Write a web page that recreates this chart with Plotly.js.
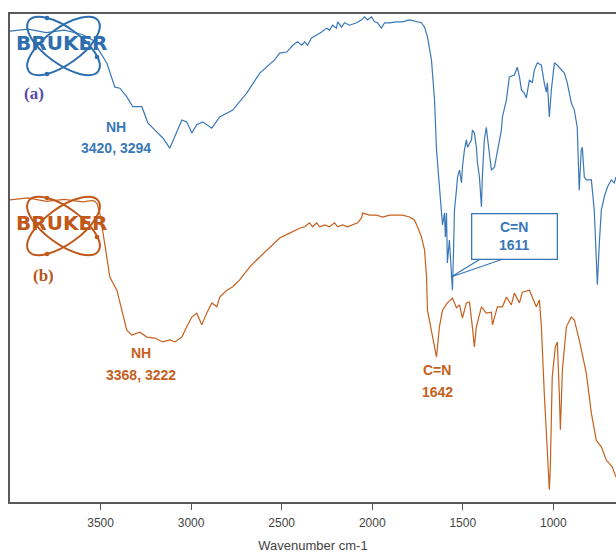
<!DOCTYPE html>
<html>
<head>
<meta charset="utf-8">
<script src="https://cdn.plot.ly/plotly-3.0.1.min.js"></script>
<style>html,body{margin:0;padding:0;background:#fff;}#chart{width:616px;height:553px;}</style>
</head>
<body>
<div id="chart"></div>
<script>
// ---- Data (wavenumber cm-1, transmittance-like relative units) ----
const wavenumberA = [4000,3900,3800,3700,3600,3540,3520,3465,3421,3393,3355,3322,3272,3239,3200,3156,3118,3090,3051,3024,2996,2969,2936,2886,2842,2770,2693,2621,2539,2511,2472,2439,2412,2390,2373,2357,2335,2307,2279,2252,2235,2219,2197,2191,2169,2153,2125,2086,2059,2042,2026,2004,1987,1971,1949,1932,1904,1866,1833,1794,1756,1728,1711,1695,1673,1656,1645,1629,1612,1601,1596,1590,1585,1574,1563,1557,1551,1546,1535,1529,1518,1507,1502,1491,1480,1474,1452,1447,1436,1425,1419,1408,1397,1392,1381,1370,1364,1353,1342,1325,1309,1287,1281,1259,1243,1215,1199,1187,1176,1160,1149,1143,1132,1116,1105,1088,1066,1050,1039,1033,1022,1011,994,978,956,939,923,901,884,868,857,846,840,829,818,790,774,763,757,746,735,719,702,680,664,654];
const transA = [96.5,96.9,96.2,96.7,95.8,94.6,93.2,89.9,85.0,84.8,83.0,81.0,81.0,77.7,76.2,74.6,72.5,74.8,78.3,77.9,75.6,77.3,77.9,76.6,78.9,80.3,83.8,87.9,90.6,92.0,92.2,93.6,94.3,93.6,94.3,93.6,95.1,95.7,96.3,97.1,96.7,97.7,97.1,98.4,97.3,98.2,97.7,98.2,98.8,99.4,98.8,99.4,98.4,98.2,97.1,98.2,98.2,98.4,98.4,98.8,98.4,98.2,97.3,95.3,90.6,82.4,72.1,63.9,56.8,59.2,54.3,59.2,49.0,53.7,46.1,43.4,51.6,59.8,63.9,66.6,68.0,65.4,68.6,72.1,74.2,72.7,74.2,76.2,75.6,72.7,69.5,66.6,60.5,66.6,74.2,76.8,74.8,70.7,68.0,68.6,71.5,76.2,78.9,82.4,87.1,87.5,89.1,87.1,84.4,83.8,82.8,84.4,86.5,85.9,88.5,90.0,89.5,85.9,84.0,85.9,78.9,84.4,90.0,89.5,88.5,87.9,85.9,81.8,80.3,76.8,63.9,72.1,72.7,66.6,66.0,66.0,59.8,48.2,44.5,53.1,59.8,62.5,64.5,66.0,65.4,66.6];

const wavenumberB = [4000,3900,3800,3700,3600,3540,3520,3504,3476,3449,3410,3382,3355,3327,3283,3244,3200,3156,3118,3090,3051,3024,2996,2969,2941,2914,2886,2858,2842,2803,2770,2732,2676,2638,2583,2511,2456,2401,2373,2346,2329,2307,2290,2263,2235,2208,2191,2164,2136,2108,2081,2059,2053,2015,1976,1943,1904,1866,1833,1794,1767,1750,1728,1711,1700,1695,1673,1656,1645,1629,1612,1585,1557,1535,1518,1502,1480,1463,1447,1436,1425,1397,1370,1342,1336,1309,1281,1259,1232,1215,1187,1171,1132,1116,1094,1077,1066,1050,1033,1022,1017,1006,989,978,967,961,950,928,901,884,857,818,790,763,735,708,675,654];
const transB = [61.9,62.3,61.6,62.0,61.5,61.8,61.2,59.2,52.7,46.1,43.4,39.3,35.2,34.2,34.8,33.8,33.6,32.8,33.2,32.8,33.8,35.9,37.9,38.7,36.3,38.7,40.8,40.0,42.0,43.4,44.1,45.5,48.2,49.6,51.5,54.1,55.1,56.1,56.4,57.2,56.4,57.2,56.4,56.8,56.4,57.2,56.4,56.8,56.4,56.8,57.2,58.2,59.2,58.8,58.8,58.4,58.8,58.8,58.8,58.4,57.8,56.4,54.3,51.6,46.1,39.3,34.6,31.8,29.7,35.9,39.3,40.8,41.8,39.8,40.4,37.7,40.8,41.0,35.9,31.8,35.9,40.0,38.7,38.9,36.3,40.0,40.0,42.0,40.4,42.8,40.8,43.0,43.4,42.0,40.0,41.4,35.9,22.3,8.6,2.5,6.6,25.6,31.8,32.8,22.3,14.8,27.0,35.9,37.9,37.3,33.2,26.4,18.2,12.7,11.3,8.6,7.2,5.1];

const tickValues = [3500,3000,2500,2000,1500,1000];
const tickLabels = ["3500","3000","2500","2000","1500","1000"];

const BLUE = "#3a78b8";
const ORANGE = "#c5601e";

// plot area in pixels: x 10..616, y 14..502
const PL = 10, PR = 616, PT = 14, PB = 502;
const px = x => (x - PL) / (PR - PL);
const py = y => (PB - y) / (PB - PT);

function ellipsePath(cx, cy, a, b, angDeg) {
  const t = angDeg * Math.PI / 180, k = 0.5523;
  const c = Math.cos(t), s = Math.sin(t);
  const P = (u, v) => { const X = cx + u * c - v * s, Y = cy + u * s + v * c; return px(X).toFixed(5) + "," + py(Y).toFixed(5); };
  return "M" + P(a,0) +
    " C" + P(a,k*b) + " " + P(k*a,b) + " " + P(0,b) +
    " C" + P(-k*a,b) + " " + P(-a,k*b) + " " + P(-a,0) +
    " C" + P(-a,-k*b) + " " + P(-k*a,-b) + " " + P(0,-b) +
    " C" + P(k*a,-b) + " " + P(a,-k*b) + " " + P(a,0) + " Z";
}
function logoShapes(cx, cy, col) {
  const base = {type: "path", xref: "paper", yref: "paper", line: {color: col, width: 2}, layer: "above"};
  const r = 2.3;
  const dot = (x, y) => ({type: "circle", xref: "paper", yref: "paper", x0: px(x - r), x1: px(x + r), y0: py(y + r), y1: py(y - r), fillcolor: col, line: {color: col, width: 0}});
  return [
    Object.assign({}, base, {path: ellipsePath(cx, cy, 43, 18, 36)}),
    Object.assign({}, base, {path: ellipsePath(cx, cy, 43, 18, -36)}),
    dot(cx - 16.5, cy - 28), dot(cx - 16.5, cy + 28), dot(cx + 33.5, cy + 11)
  ];
}

const traces = [
  {x: wavenumberA, y: transA, type: "scatter", mode: "lines", line: {color: BLUE, width: 1.2}, hoverinfo: "skip", showlegend: false},
  {x: wavenumberB, y: transB, type: "scatter", mode: "lines", line: {color: ORANGE, width: 1.2}, hoverinfo: "skip", showlegend: false}
];

const lblFont = (c, s) => ({family: "Liberation Sans, Arial, sans-serif", size: s, color: c});
const ann = (x, y, text, font, extra) => Object.assign({xref: "paper", yref: "paper", x: px(x), y: py(y), xanchor: "center", yanchor: "middle", showarrow: false, text: text, font: font}, extra || {});

const shapes = [].concat(
  logoShapes(63.5, 46, "#2f6eae"),
  logoShapes(63.5, 226, "#c0581a"),
  [{type: "path", xref: "paper", yref: "paper",
    path: "M" + px(482) + "," + py(258) + " L" + px(451) + "," + py(277) + " L" + px(506) + "," + py(258),
    line: {color: BLUE, width: 1.3}}]
);

const annotations = [
  ann(61, 43, "<b>BRUKER</b>", {family: "DejaVu Sans, sans-serif", size: 20, color: "#2f6eae"}),
  ann(61, 223, "<b>BRUKER</b>", {family: "DejaVu Sans, sans-serif", size: 20, color: "#c0581a"}),
  ann(34, 93, "<b>(a)</b>", {family: "Liberation Serif, serif", size: 17, color: "#5a4aa8"}),
  ann(43, 275, "<b>(b)</b>", {family: "Liberation Serif, serif", size: 17, color: "#b5561c"}),
  ann(116, 127, "<b>NH</b>", lblFont(BLUE, 14)),
  ann(116, 148, "<b>3420, 3294</b>", lblFont(BLUE, 14)),
  ann(141, 353, "<b>NH</b>", lblFont(ORANGE, 14)),
  ann(141, 375, "<b>3368, 3222</b>", lblFont(ORANGE, 14)),
  ann(437, 370, "<b>C=N</b>", lblFont(ORANGE, 14)),
  ann(437, 392, "<b>1642</b>", lblFont(ORANGE, 14)),
  ann(514, 236, "<b>C=N</b><br><b>1611</b>", lblFont(BLUE, 14), {width: 82, height: 42, bordercolor: BLUE, borderwidth: 1.3, bgcolor: "#ffffff", borderpad: 1})
];

const layout = {
  width: 616, height: 553,
  margin: {l: PL, r: 616 - PR, t: PT, b: 553 - PB},
  paper_bgcolor: "#ffffff", plot_bgcolor: "#ffffff",
  showlegend: false,
  xaxis: {
    range: [4000, 654], autorange: false,
    tickvals: tickValues, ticktext: tickLabels,
    ticks: "outside", ticklen: 6, tickwidth: 1.2, tickcolor: "#555",
    ticklabelstandoff: 3,
    showline: true, linecolor: "#5a5a5a", linewidth: 2, mirror: true,
    showgrid: false, zeroline: false,
    tickfont: {family: "Liberation Sans, Arial, sans-serif", size: 12, color: "#444"},
    title: {text: "Wavenumber cm-1", font: {family: "Liberation Sans, Arial, sans-serif", size: 13, color: "#444"}, standoff: 11},
    automargin: false
  },
  yaxis: {
    range: [0, 100], autorange: false,
    showticklabels: false, ticks: "", showgrid: false, zeroline: false,
    showline: true, linecolor: "#5a5a5a", linewidth: 2,
    automargin: false
  },
  shapes: shapes,
  annotations: annotations
};

Plotly.newPlot("chart", traces, layout, {displayModeBar: false, staticPlot: true});
</script>
</body>
</html>
